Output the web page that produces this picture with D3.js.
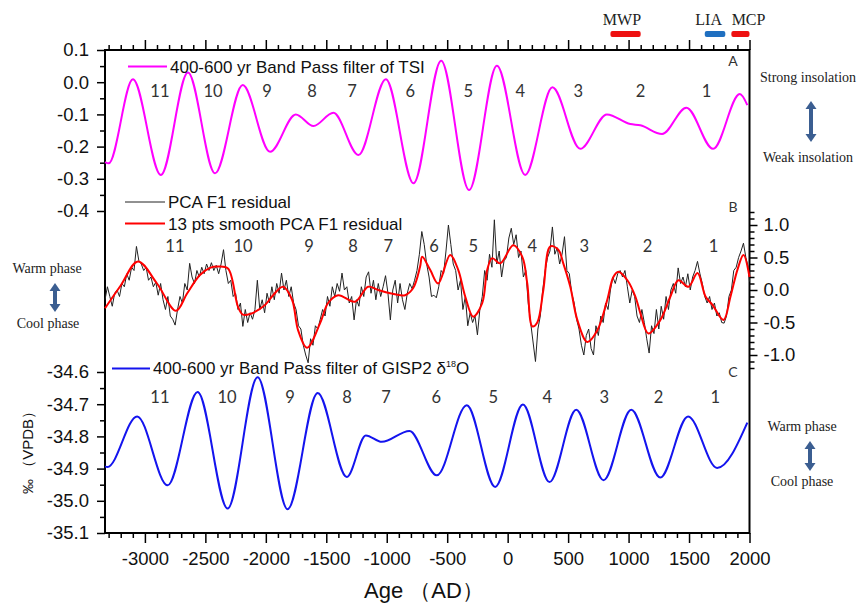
<!DOCTYPE html>
<meta charset="utf-8">
<html>
<head>
<style>
body { margin: 0; background: #fff; }
svg text { font-family: 'Liberation Sans', Arial, sans-serif; }
.serif { font-family: 'Liberation Serif', 'Times New Roman', serif; fill: #222; }
.num { font-family: Lato, 'Open Sans', sans-serif; fill: #333; font-size: 16.5px; }
.letter { font-family: Lato, 'Open Sans', sans-serif; fill: #333; font-size: 14px; }
</style>
</head>
<body>
<svg width="857" height="604"></svg>
<script src="https://cdn.jsdelivr.net/npm/d3@7"></script>
<script>

// A: 400-600 yr band pass of TSI (extrema)
const tsiAge = [-3330, -3300, -3099, -2868, -2644, -2420, -2191, -1965, -1752, -1606, -1441, -1234, -1007, -778,
    -550, -319, -89, 145, 370, 600, 821, 1014, 1097, 1277, 1478, 1699, 1920, 1982];
const tsiVal = [-0.248, -0.252, 0.009, -0.288, 0.030, -0.283, -0.009, -0.216, -0.100, -0.136, -0.095, -0.226, 0.009, -0.314,
    0.067, -0.335, 0.051, -0.288, -0.016, -0.207, -0.100, -0.130, -0.134, -0.161, -0.079, -0.207, -0.037, -0.071];

// C: 400-600 yr band pass of GISP2 d18O
const gispAge = [-3330, -3310, -3064, -2812, -2564, -2316, -2068, -1820, -1571, -1330, -1173, -1041, -812, -586,
    -338, -103, 126, 346, 567, 793, 1022, 1262, 1492, 1732, 1982];
const gispVal = [-34.893, -34.895, -34.738, -34.952, -34.662, -35.024, -34.616, -35.026, -34.665, -34.926, -34.797, -34.817, -34.783, -34.921,
    -34.703, -34.957, -34.701, -34.942, -34.717, -34.936, -34.717, -34.928, -34.738, -34.898, -34.757];

// B: PCA F1 residual [age, value]
const pcaResidual = [[-3330,-0.15],[-3310,0.05],[-3290,-0.10],[-3270,-0.25],[-3250,-0.05],[-3230,0.00],[-3210,-0.10],[-3190,0.10],
    [-3170,0.05],[-3150,0.25],[-3130,0.15],[-3110,0.35],[-3090,0.30],[-3070,0.67],[-3050,0.45],[-3030,0.40],[-3010,0.30],
    [-2990,0.35],[-2970,0.15],[-2950,0.20],[-2930,0.05],[-2910,0.12],[-2890,-0.08],[-2870,0.10],[-2850,-0.15],[-2830,-0.30],
    [-2810,-0.10],[-2790,-0.40],[-2770,-0.45],[-2750,-0.54],[-2730,-0.30],[-2710,-0.10],[-2690,-0.20],[-2670,0.10],[-2650,0.00],
    [-2630,0.41],[-2610,0.20],[-2590,0.10],[-2570,0.30],[-2550,0.20],[-2530,0.35],[-2510,0.25],[-2490,0.40],[-2470,0.30],
    [-2450,0.42],[-2430,0.30],[-2410,0.38],[-2390,0.25],[-2370,0.40],[-2350,0.62],[-2330,0.30],[-2310,0.10],[-2290,0.15],
    [-2270,-0.10],[-2250,-0.05],[-2230,-0.30],[-2210,-0.20],[-2190,-0.56],[-2170,-0.30],[-2150,-0.50],[-2130,-0.35],[-2110,-0.45],
    [-2090,-0.30],[-2070,0.15],[-2050,-0.30],[-2030,-0.15],[-2010,-0.35],[-1990,-0.05],[-1970,-0.20],[-1950,0.05],[-1930,-0.15],
    [-1910,0.10],[-1890,-0.05],[-1870,0.26],[-1850,0.00],[-1830,0.15],[-1810,-0.10],[-1790,0.05],[-1770,-0.20],[-1750,-0.30],
    [-1730,-0.55],[-1710,-0.60],[-1690,-0.85],[-1670,-1.00],[-1650,-1.12],[-1630,-0.75],[-1610,-0.85],[-1590,-0.55],[-1570,-0.60],
    [-1550,-0.45],[-1530,-0.30],[-1510,-0.40],[-1490,-0.10],[-1470,-0.25],[-1450,0.05],[-1430,-0.10],[-1410,0.10],[-1390,-0.02],
    [-1370,0.26],[-1350,0.00],[-1330,0.05],[-1310,-0.20],[-1290,-0.10],[-1270,-0.46],[-1250,-0.15],[-1230,-0.25],[-1210,0.05],
    [-1190,-0.10],[-1170,0.20],[-1150,0.28],[-1130,-0.05],[-1110,0.15],[-1090,-0.15],[-1070,0.10],[-1050,-0.10],[-1030,0.05],
    [-1010,0.22],[-990,-0.05],[-970,-0.46],[-950,0.00],[-930,0.15],[-910,-0.20],[-890,0.10],[-870,-0.15],[-850,-0.30],
    [-830,-0.05],[-810,0.10],[-790,0.02],[-770,0.15],[-750,0.30],[-730,0.55],[-710,0.90],[-690,0.70],[-670,0.40],[-650,0.20],
    [-630,-0.10],[-610,-0.08],[-590,-0.12],[-570,0.05],[-550,0.30],[-530,0.25],[-510,0.60],[-490,1.00],[-470,0.70],[-450,0.40],
    [-430,0.30],[-410,0.00],[-390,0.15],[-370,-0.30],[-350,-0.10],[-330,-0.55],[-310,-0.35],[-290,-0.50],[-270,-0.40],[-250,-0.69],
    [-230,-0.30],[-210,-0.10],[-190,0.30],[-170,0.15],[-150,0.55],[-130,0.35],[-110,1.08],[-90,0.40],[-70,0.60],[-50,0.20],
    [-30,0.45],[-10,0.50],[10,0.80],[30,0.95],[50,0.70],[70,0.85],[90,0.50],[110,0.60],[130,0.20],[150,0.30],[170,-0.20],
    [190,-0.50],[210,-0.80],[230,-1.10],[250,-0.60],[270,-0.40],[290,0.00],[310,0.30],[330,0.50],[350,0.60],[370,0.97],
    [390,0.55],[410,0.65],[430,0.40],[450,0.55],[470,0.82],[490,0.30],[510,0.25],[530,-0.05],[550,-0.20],[570,-0.45],
    [590,-0.60],[610,-0.85],[630,-1.00],[650,-0.70],[670,-0.60],[690,-0.90],[710,-1.00],[730,-0.55],[750,-0.70],[770,-0.40],
    [790,-0.50],[810,-0.20],[830,-0.30],[850,0.00],[870,0.20],[890,0.10],[910,0.25],[930,0.30],[950,0.20],[970,0.30],
    [990,0.05],[1010,-0.20],[1030,0.00],[1050,-0.10],[1070,-0.40],[1090,-0.50],[1110,-0.30],[1130,-0.50],[1150,-0.75],
    [1170,-0.97],[1190,-0.55],[1210,-0.67],[1230,-0.30],[1250,-0.60],[1270,-0.25],[1290,-0.45],[1310,-0.10],[1330,-0.30],
    [1350,0.00],[1370,0.10],[1390,-0.05],[1410,0.34],[1430,0.10],[1450,0.20],[1470,0.05],[1490,0.25],[1510,0.00],[1530,0.20],
    [1550,0.30],[1570,0.44],[1590,0.25],[1610,0.10],[1630,-0.10],[1650,-0.20],[1670,-0.10],[1690,-0.30],[1710,-0.20],
    [1730,-0.40],[1750,-0.35],[1770,-0.50],[1790,-0.51],[1810,-0.40],[1830,-0.10],[1850,0.00],[1870,0.30],[1890,0.35],
    [1910,0.50],[1930,0.60],[1950,0.72],[1970,0.50],[1990,0.35],[2000,0.13]];

// B: 13 pts smooth of the residual [age, value]
const pcaSmooth = [[-3330,-0.28],[-3200,0.07],[-3058,0.44],[-2900,0.10],[-2743,-0.32],[-2650,-0.05],[-2545,0.23],[-2462,0.34],
    [-2396,0.36],[-2313,0.33],[-2230,-0.26],[-2189,-0.38],[-2131,-0.37],[-2007,-0.23],[-1940,-0.08],[-1858,0.05],[-1783,-0.15],
    [-1733,-0.62],[-1659,-0.89],[-1551,-0.51],[-1485,-0.20],[-1402,-0.08],[-1262,-0.18],[-1154,0.05],[-1071,0.00],[-972,-0.05],
    [-848,-0.08],[-781,0.03],[-724,0.36],[-707,0.51],[-641,0.31],[-575,0.10],[-475,0.54],[-409,0.31],[-351,-0.10],[-285,-0.41],
    [-210,-0.20],[-169,0.31],[-128,0.49],[-61,0.41],[46,0.69],[121,0.51],[162,0.10],[204,-0.56],[245,-0.50],[295,0.00],
    [353,0.67],[419,0.62],[460,0.41],[518,0.05],[576,-0.46],[659,-0.80],[742,-0.62],[824,-0.15],[874,0.20],[915,0.28],
    [990,0.15],[1056,-0.10],[1098,-0.36],[1164,-0.67],[1263,-0.46],[1346,-0.10],[1412,0.15],[1495,0.05],[1570,0.26],
    [1636,-0.10],[1694,-0.23],[1785,-0.46],[1843,-0.10],[1900,0.31],[1950,0.54],[2000,0.20]];

// cycle numbers and where they sit in each panel
const cycleLabels = ['11', '10', '9', '8', '7', '6', '5', '4', '3', '2', '1'];
const tsiCycleAge = [-2876, -2437, -1990, -1618, -1286, -806, -326, 104, 584, 1098, 1644];
const pcaCycleAge = [-2752, -2189, -1642, -1278, -988, -608, -285, 204, 634, 1156, 1702];
const gispCycleAge = [-2876, -2321, -1800, -1328, -1005, -591, -119, 328, 800, 1247, 1718];

// climate periods on top
const periodNames = ['MWP', 'LIA', 'MCP'];
const periodStart = [850, 1630, 1850];
const periodEnd = [1100, 1800, 2000];
const periodLabelAge = [945, 1662, 1992];

const svg = d3.select('svg');
const plotL = 105, plotR = 749.5, plotT = 50, plotB = 533;

const x = d3.scaleLinear().domain([-3330, 2000]).range([plotL, plotR]);
const yTsi = d3.scaleLinear().domain([-0.4, 0.1]).range([211, plotT]);
const yPca = d3.scaleLinear().domain([-1.2, 1.2]).range([368, 212]);
const yGisp = d3.scaleLinear().domain([-35.1, -34.6]).range([plotB, 372]);

const fmt1 = d => d.toFixed(1);
const isMajorYear = d => d % 500 === 0;
const yearMinor = d3.range(-3300, 2001, 100).filter(d => !isMajorYear(d));
const yearMajor = d3.range(-3000, 2001, 500);

function styleAxis(g) {
    g.select('.domain').remove();
    g.selectAll('line').attr('stroke', '#000').attr('stroke-width', 1.5);
    g.selectAll('text').attr('font-size', 18.5).attr('fill', '#111');
}

// x axes
svg.append('g').attr('transform', `translate(0,${plotB})`)
    .call(d3.axisBottom(x).tickValues(yearMajor).tickSize(10).tickPadding(9).tickFormat(d => String(d)))
    .call(styleAxis);
svg.append('g').attr('transform', `translate(0,${plotB})`)
    .call(d3.axisBottom(x).tickValues(yearMinor).tickSize(5).tickFormat(''))
    .call(styleAxis);
svg.append('g').attr('transform', `translate(0,${plotT})`)
    .call(d3.axisTop(x).tickValues(yearMajor).tickSize(10).tickFormat(''))
    .call(styleAxis);
svg.append('g').attr('transform', `translate(0,${plotT})`)
    .call(d3.axisTop(x).tickValues(yearMinor).tickSize(5).tickFormat(''))
    .call(styleAxis);

// left axes (TSI and GISP2)
svg.append('g').attr('transform', `translate(${plotL},0)`)
    .call(d3.axisLeft(yTsi).tickValues([0.1, 0, -0.1, -0.2, -0.3, -0.4]).tickSize(8).tickPadding(8).tickFormat(fmt1))
    .call(styleAxis);
svg.append('g').attr('transform', `translate(${plotL},0)`)
    .call(d3.axisLeft(yTsi).tickValues([0.05, -0.05, -0.15, -0.25, -0.35]).tickSize(5).tickFormat(''))
    .call(styleAxis);
svg.append('g').attr('transform', `translate(${plotL},0)`)
    .call(d3.axisLeft(yGisp).tickValues([-34.6, -34.7, -34.8, -34.9, -35.0, -35.1]).tickSize(8).tickPadding(8).tickFormat(fmt1))
    .call(styleAxis);
svg.append('g').attr('transform', `translate(${plotL},0)`)
    .call(d3.axisLeft(yGisp).tickValues([-34.65, -34.75, -34.85, -34.95, -35.05]).tickSize(5).tickFormat(''))
    .call(styleAxis);

// right axis (PCA)
svg.append('g').attr('transform', `translate(${plotR},0)`)
    .call(d3.axisRight(yPca).tickValues([1, 0.5, 0, -0.5, -1]).tickSize(8).tickPadding(6).tickFormat(fmt1))
    .call(styleAxis);
svg.append('g').attr('transform', `translate(${plotR},0)`)
    .call(d3.axisRight(yPca).tickValues(d3.range(-12, 13).filter(i => i % 5 !== 0).map(i => i / 10)).tickSize(5).tickFormat(''))
    .call(styleAxis);

// frame
svg.append('rect')
    .attr('x', plotL).attr('y', plotT)
    .attr('width', plotR - plotL).attr('height', plotB - plotT)
    .attr('fill', 'none').attr('stroke', '#000').attr('stroke-width', 2);

// curves
const tsiLine = d3.line().x((d, i) => x(tsiAge[i])).y(d => yTsi(d)).curve(d3.curveMonotoneX);
svg.append('path').datum(tsiVal).attr('d', tsiLine)
    .attr('fill', 'none').attr('stroke', '#ff00ff').attr('stroke-width', 2);

const gispLine = d3.line().x((d, i) => x(gispAge[i])).y(d => yGisp(d)).curve(d3.curveMonotoneX);
svg.append('path').datum(gispVal).attr('d', gispLine)
    .attr('fill', 'none').attr('stroke', '#1414ee').attr('stroke-width', 2);

const pcaLine = d3.line().x(d => x(d[0])).y(d => yPca(d[1]));
svg.append('path').datum(pcaResidual).attr('d', pcaLine)
    .attr('fill', 'none').attr('stroke', '#222').attr('stroke-width', 1);
svg.append('path').datum(pcaSmooth).attr('d', pcaLine.curve(d3.curveCatmullRom.alpha(0.5)))
    .attr('fill', 'none').attr('stroke', '#ff0000').attr('stroke-width', 2);

// legends
function legendItem(x1, x2, y, color, width, label, ty) {
    svg.append('line').attr('x1', x1).attr('x2', x2).attr('y1', y).attr('y2', y)
        .attr('stroke', color).attr('stroke-width', width);
    return svg.append('text').attr('x', x2 + 3).attr('y', ty).attr('font-size', 17).attr('fill', '#111').text(label);
}
legendItem(128, 167, 66.5, '#ff00ff', 2, '400-600 yr Band Pass filter of TSI', 73);
legendItem(125, 165, 202, '#222', 1, 'PCA F1 residual', 208);
legendItem(125, 165, 223.5, '#ff0000', 2, '13 pts smooth PCA F1 residual', 229.5);
const gl = legendItem(112, 150, 368.5, '#1414ee', 2, '400-600 yr Band Pass filter of GISP2 δ', 374);
gl.append('tspan').attr('font-size', 9).attr('dy', -7).text('18');
gl.append('tspan').attr('dy', 7).text('O');

// cycle numbers
function cycles(ages, baseline) {
    svg.append('g').selectAll('text').data(cycleLabels).join('text')
        .attr('class', 'num').attr('text-anchor', 'middle')
        .attr('x', (d, i) => x(ages[i])).attr('y', baseline).text(d => d);
}
cycles(tsiCycleAge, 97);
cycles(pcaCycleAge, 252);
cycles(gispCycleAge, 403);

// panel letters
[['A', 66], ['B', 212], ['C', 377]].forEach(([t, y]) => {
    svg.append('text').attr('class', 'letter').attr('x', 733).attr('y', y)
        .attr('text-anchor', 'middle').text(t);
});

// periods on top
const periodColors = ['#ee1111', '#1f6fc0', '#ee1111'];
periodNames.forEach((n, i) => {
    svg.append('rect').attr('x', x(periodStart[i])).attr('y', 31)
        .attr('width', x(periodEnd[i]) - x(periodStart[i])).attr('height', 6)
        .attr('rx', 2).attr('fill', periodColors[i]);
    svg.append('text').attr('class', 'serif').attr('x', x(periodLabelAge[i])).attr('y', 25)
        .attr('text-anchor', 'middle').attr('font-size', 16).text(n);
});

// double arrows + phase notes
function arrow(cx, y1, y2) {
    const p = `M${cx},${y1} L${cx + 5.5},${y1 + 8} L${cx + 2},${y1 + 8} L${cx + 2},${y2 - 8} L${cx + 5.5},${y2 - 8}
        L${cx},${y2} L${cx - 5.5},${y2 - 8} L${cx - 2},${y2 - 8} L${cx - 2},${y1 + 8} L${cx - 5.5},${y1 + 8} Z`;
    svg.append('path').attr('d', p).attr('fill', '#3b5e91');
}
function note(cx, y, t) {
    svg.append('text').attr('class', 'serif').attr('x', cx).attr('y', y)
        .attr('text-anchor', 'middle').attr('font-size', 14).text(t);
}
note(808, 82, 'Strong insolation');
note(808, 162, 'Weak insolation');
arrow(811, 101, 142);
note(47, 273, 'Warm phase');
note(48, 328, 'Cool phase');
arrow(55, 283, 312);
note(802, 431, 'Warm phase');
note(802, 486, 'Cool phase');
arrow(810, 441, 471);

// axis titles
svg.append('text').attr('x', 424).attr('y', 598).attr('text-anchor', 'middle')
    .attr('font-size', 22).attr('fill', '#111').text('Age （AD）');
svg.append('text').attr('transform', 'translate(33,449) rotate(-90)').attr('text-anchor', 'middle')
    .attr('font-size', 15).attr('fill', '#111').text('‰ （VPDB）');

</script>
</body>
</html>
